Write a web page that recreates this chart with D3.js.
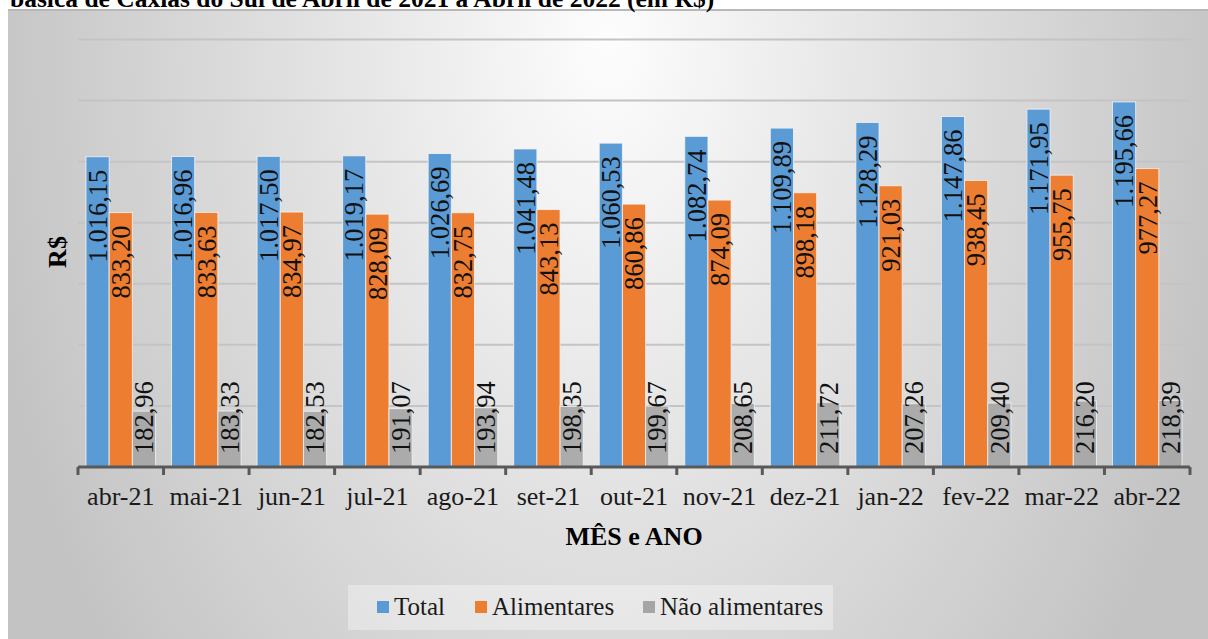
<!DOCTYPE html>
<html><head><meta charset="utf-8">
<script src="https://cdn.jsdelivr.net/npm/d3@7"></script>
<style>body{margin:0;background:#fff}svg{display:block}</style>
</head><body>
<svg id="c" width="1208" height="639"></svg>
<script>
const titleText = "básica de Caxias do Sul de Abril de 2021 a Abril de 2022 (em R$)";
const categories = ["abr-21","mai-21","jun-21","jul-21","ago-21","set-21","out-21","nov-21","dez-21","jan-22","fev-22","mar-22","abr-22"];
const seriesNames = ["Total","Alimentares","Não alimentares"];
const total = [1016.15,1016.96,1017.50,1019.17,1026.69,1041.48,1060.53,1082.74,1109.89,1128.29,1147.86,1171.95,1195.66];
const alimentares = [833.20,833.63,834.97,828.09,832.75,843.13,860.86,874.09,898.18,921.03,938.45,955.75,977.27];
const naoAlimentares = [182.96,183.33,182.53,191.07,193.94,198.35,199.67,208.65,211.72,207.26,209.40,216.20,218.39];
const yTicks = [0,200,400,600,800,1000,1200,1400];
const xTitle = "MÊS e ANO";
const yTitle = "R$";

const seriesValues = [total, alimentares, naoAlimentares];
const colors = ["#5b9bd5","#ed7d31","#a5a5a5"];
const FONT = "'Liberation Serif','Times New Roman',serif";

const svg = d3.select("#c");
const defs = svg.append("defs");
const grad = defs.append("radialGradient").attr("id","bg")
  .attr("gradientUnits","userSpaceOnUse").attr("cx",0).attr("cy",0).attr("r",1)
  .attr("gradientTransform","translate(608,40) scale(640,1000)");
grad.append("stop").attr("offset",0).attr("stop-color","#fdfdfd");
grad.append("stop").attr("offset",1).attr("stop-color","#c3c3c3");

// chart background
svg.append("rect").attr("x",8).attr("y",10).attr("width",1210).attr("height",640).attr("fill","url(#bg)");
svg.append("line").attr("x1",8).attr("x2",1208).attr("y1",10).attr("y2",10).attr("stroke","#b8b8b8").attr("stroke-width",2);

// title (clipped at top)
svg.append("text").attr("x",10).attr("y",7).attr("font-family",FONT).attr("font-weight","bold")
  .attr("font-size",25.5).attr("fill","#000").text(titleText);

const plotL = 78, plotR = 1190, plotT = 39.5, plotB = 467;
const x0 = d3.scaleBand().domain(categories).range([plotL, plotR]).paddingInner(0).paddingOuter(0);
const pad = 8;
const x1 = d3.scaleBand().domain(seriesNames).range([pad, x0.bandwidth()-pad]).padding(0);
const y = d3.scaleLinear().domain([0,1400]).range([plotB, plotT]);

// gridlines
svg.append("g").selectAll("line").data(yTicks.filter(d=>d>0)).join("line")
  .attr("x1",plotL).attr("x2",plotR).attr("y1",d=>y(d)).attr("y2",d=>y(d))
  .attr("stroke","#c4c4c4").attr("stroke-width",2);

const loc = d3.formatLocale({decimal:",", thousands:".", grouping:[3], currency:["R$",""]});
const fmt = loc.format(",.2f");

const rows = categories.map((c,i)=>({cat:c, vals: seriesNames.map((s,k)=>({s, k, v: seriesValues[k][i]}))}));

const groups = svg.append("g").selectAll("g").data(rows).join("g")
  .attr("transform", d=>`translate(${x0(d.cat)},0)`);

groups.selectAll("rect").data(d=>d.vals).join("rect")
  .attr("x", d=>x1(d.s)).attr("width", x1.bandwidth())
  .attr("y", d=>y(d.v)).attr("height", d=>plotB - y(d.v))
  .attr("fill", d=>colors[d.k])
  .attr("fill-opacity", d=>d.k===2?0.9:1)
  .attr("stroke","#f4f4f4").attr("stroke-opacity",0.8).attr("stroke-width",1);

// data labels
groups.each(function(d){
  const g = d3.select(this);
  d.vals.forEach(v=>{
    const cx = x1(v.s) + x1.bandwidth()/2;
    const t = g.append("text").attr("font-family",FONT).attr("font-size",26.5).attr("fill","#111")
      .text(fmt(v.v));
    const L = t.node().getComputedTextLength();
    const top = y(v.v) + 13;
    let py, anchor;
    if (top + L > plotB - 13) { py = plotB - 13; anchor = "start"; }
    else { py = top; anchor = "end"; }
    t.attr("text-anchor", anchor).attr("dy","0.35em")
     .attr("transform", `translate(${cx},${py}) rotate(-90)`);
  });
});

// x axis
const axis = svg.append("g").attr("transform",`translate(0,${plotB})`);
axis.append("line").attr("x1",plotL).attr("x2",plotR).attr("stroke","#595959").attr("stroke-width",3);
const tickPos = categories.map(c=>x0(c)).concat([plotR]);
axis.selectAll("line.t").data(tickPos).join("line").attr("class","t")
  .attr("x1",d=>d).attr("x2",d=>d).attr("y1",0).attr("y2",8).attr("stroke","#595959").attr("stroke-width",3);
axis.selectAll("text").data(categories).join("text")
  .attr("x", d=>x0(d)+x0.bandwidth()/2).attr("y",38)
  .attr("text-anchor","middle").attr("font-family",FONT).attr("font-size",26).attr("fill","#1a1a1a")
  .text(d=>d);

// axis titles
svg.append("text").attr("x",(plotL+plotR)/2).attr("y",545).attr("text-anchor","middle")
  .attr("font-family",FONT).attr("font-weight","bold").attr("font-size",26).attr("fill","#000").text(xTitle);
svg.append("text").attr("transform","translate(66,252) rotate(-90)").attr("text-anchor","middle")
  .attr("font-family",FONT).attr("font-weight","bold").attr("font-size",26).attr("fill","#000").text(yTitle);

// legend
const lg = svg.append("g");
lg.append("rect").attr("x",348).attr("y",585).attr("width",485).attr("height",45).attr("fill","#ffffff").attr("fill-opacity",0.35);
const legX = [377, 475, 643];
seriesNames.forEach((s,k)=>{
  lg.append("rect").attr("x",legX[k]).attr("y",601).attr("width",12).attr("height",12).attr("fill",colors[k]);
  lg.append("text").attr("x",legX[k]+17).attr("y",615).attr("font-family",FONT).attr("font-size",25)
    .attr("fill","#1a1a1a").text(s);
});
</script>
</body></html>
